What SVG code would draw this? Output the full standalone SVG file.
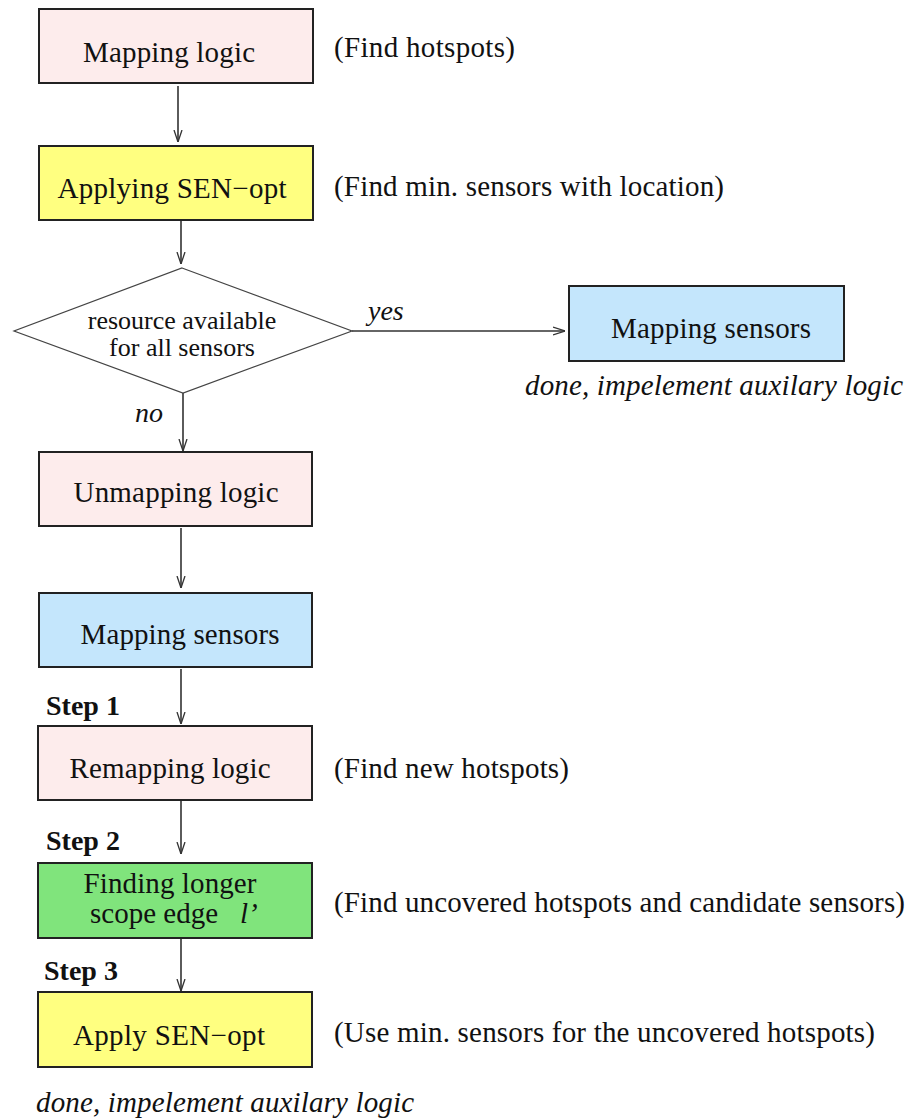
<svg xmlns="http://www.w3.org/2000/svg" width="918" height="1119" viewBox="0 0 918 1119">
<style>
.box{stroke:#222;stroke-width:2}
.pink{fill:#fdecec}
.yellow{fill:#ffff80}
.blue{fill:#c4e6fc}
.green{fill:#80e47c}
.t{font-family:"Liberation Serif",serif;font-size:29px;fill:#111}
.c{text-anchor:middle}
.i{font-style:italic}
.b{font-weight:bold;font-size:28px}
.d{font-size:26px}
.edge{stroke:#333;stroke-width:1.6;fill:none;marker-end:url(#arr)}
</style>
<defs>
<marker id="arr" viewBox="0 0 12 10" refX="12" refY="5" markerWidth="12" markerHeight="10" markerUnits="userSpaceOnUse" orient="auto">
<path d="M0,1 L12,5 L0,9" fill="none" stroke="#333" stroke-width="1.3"/>
</marker>
</defs>
<rect width="918" height="1119" fill="#fff"/>
<g id="connectors">
<line class="edge" x1="178" y1="86" x2="178" y2="142"/>
<line class="edge" x1="181" y1="220" x2="181" y2="264"/>
<line class="edge" x1="352" y1="331" x2="565" y2="331"/>
<line class="edge" x1="183" y1="393" x2="183" y2="451"/>
<line class="edge" x1="181" y1="528" x2="181" y2="588"/>
<line class="edge" x1="181" y1="669" x2="181" y2="724"/>
<line class="edge" x1="181" y1="800" x2="181" y2="854"/>
<line class="edge" x1="181" y1="938" x2="181" y2="991"/>
</g>
<g id="n1"><rect class="box pink" x="39" y="9" width="274" height="74"/><text class="t c" x="169" y="62" textLength="172">Mapping logic</text></g>
<text class="t" x="334" y="57" textLength="181">(Find hotspots)</text>
<g id="n2"><rect class="box yellow" x="39" y="146" width="274" height="74"/><text class="t c" x="172" y="198" textLength="229">Applying SEN−opt</text></g>
<text class="t" x="334" y="196" textLength="390">(Find min. sensors with location)</text>
<g id="n3"><polygon points="182,268 352,331 183,393 14,331" fill="#fff" stroke="#444" stroke-width="1.2"/><text class="t c d" x="182" y="329">resource available</text><text class="t c d" x="182" y="356">for all sensors</text></g>
<text class="t i" x="368" y="320" style="font-size:28px">yes</text>
<text class="t i" x="135" y="422" style="font-size:28px">no</text>
<g id="n4"><rect class="box blue" x="569" y="286" width="275" height="75"/><text class="t c" x="711" y="338" textLength="200">Mapping sensors</text></g>
<text class="t i" x="525" y="395" textLength="378">done, impelement auxilary logic</text>
<g id="n5"><rect class="box pink" x="39" y="452" width="273" height="74"/><text class="t c" x="176" y="502" textLength="205">Unmapping logic</text></g>
<g id="n6"><rect class="box blue" x="39" y="593" width="273" height="74"/><text class="t c" x="180" y="644" textLength="199">Mapping sensors</text></g>
<text class="t b" x="46" y="715">Step 1</text>
<g id="n7"><rect class="box pink" x="38" y="726" width="274" height="74"/><text class="t c" x="170" y="778" textLength="201">Remapping logic</text></g>
<text class="t" x="334" y="778" textLength="235">(Find new hotspots)</text>
<text class="t b" x="46" y="850">Step 2</text>
<g id="n8"><rect class="box green" x="38" y="863" width="274" height="75"/><text class="t c" x="170" y="893" textLength="173">Finding longer</text><text class="t" x="90" y="923">scope edge</text><text class="t i" x="240" y="923">l’</text></g>
<text class="t" x="334" y="912" textLength="571">(Find uncovered hotspots and candidate sensors)</text>
<text class="t b" x="44" y="980">Step 3</text>
<g id="n9"><rect class="box yellow" x="38" y="992" width="274" height="75"/><text class="t c" x="169" y="1045" textLength="192">Apply SEN−opt</text></g>
<text class="t" x="334" y="1042" textLength="541">(Use min. sensors for the uncovered hotspots)</text>
<text class="t i" x="36" y="1112" textLength="378">done, impelement auxilary logic</text>
</svg>
